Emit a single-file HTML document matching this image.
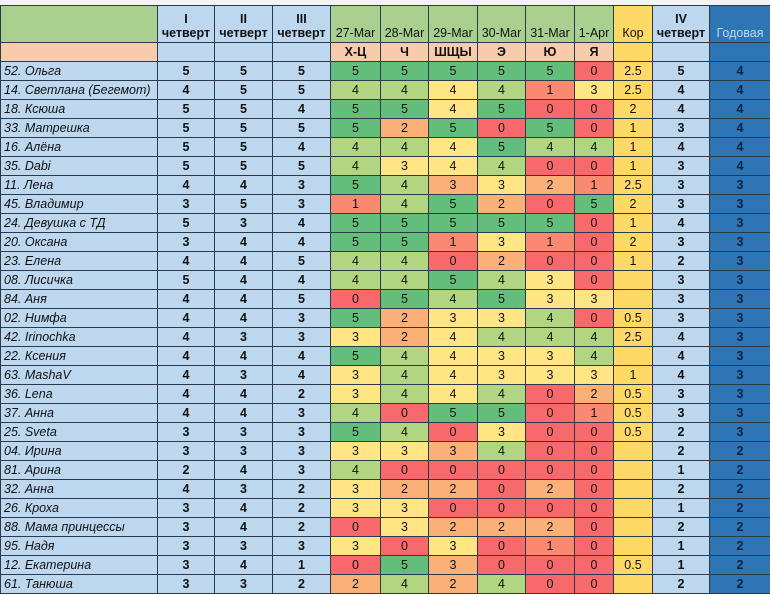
<!DOCTYPE html>
<html><head><meta charset="utf-8">
<style>
body{margin:0;width:770px;height:595px;background:#fff;overflow:hidden;font-family:"Liberation Sans","DejaVu Sans",sans-serif;}
.top{position:absolute;left:0;top:0;width:770px;height:5px;background:#f4f4f4;border-bottom:1px solid #999}
table{position:absolute;left:0;top:5px;border-collapse:collapse;table-layout:fixed;width:770px;font-size:12.5px}
td{border:1px solid #2a3a4a;padding:0;text-align:center;height:18px;line-height:18px;overflow:hidden;white-space:nowrap;color:#111}
tr.h1 td{height:34px;line-height:14px;font-weight:bold;vertical-align:bottom;padding-bottom:2px}
tr.h1 td.d{font-weight:normal}
td.n{text-align:left;font-style:italic;padding-left:3px;background:#bdd7ee}
td.b{background:#bdd7ee;font-weight:bold}
td.y{background:#2e75b6;font-weight:bold;color:#0d2240}
td.k{background:#ffd966}
.c5{background:#63be7b}.c4{background:#b1d580}.c3{background:#ffe584}.c2{background:#fbb078}.c1{background:#f98a70}.c0{background:#f8696b}
.g{background:#a9d08e}.p{background:#f8cbad}
</style></head><body>
<div class="top"></div>
<table>
<colgroup><col style="width:157px"><col style="width:57px"><col style="width:58px"><col style="width:58px"><col style="width:50px"><col style="width:48px"><col style="width:49px"><col style="width:48px"><col style="width:49px"><col style="width:39px"><col style="width:39px"><col style="width:57px"><col style="width:61px"></colgroup>
<tr class="h1"><td class="g"></td><td class="b">I<br>четверт</td><td class="b">II<br>четверт</td><td class="b">III<br>четверт</td><td class="g d">27-Mar</td><td class="g d">28-Mar</td><td class="g d">29-Mar</td><td class="g d">30-Mar</td><td class="g d">31-Mar</td><td class="g d">1-Apr</td><td class="k d">Кор</td><td class="b">IV<br>четверт</td><td class="d" style="background:#2e75b6;color:#bdd7ee">Годовая</td></tr>
<tr style="font-weight:bold"><td class="p"></td><td class="b"></td><td class="b"></td><td class="b"></td><td class="p">Х-Ц</td><td class="p">Ч</td><td class="p">ШЩЫ</td><td class="p">Э</td><td class="p">Ю</td><td class="p">Я</td><td class="k"></td><td class="b"></td><td class="y"></td></tr>
<tr><td class="n">52. Ольга</td><td class="b">5</td><td class="b">5</td><td class="b">5</td><td class="c5">5</td><td class="c5">5</td><td class="c5">5</td><td class="c5">5</td><td class="c5">5</td><td class="c0">0</td><td class="k">2.5</td><td class="b">5</td><td class="y">4</td></tr>
<tr><td class="n">14. Светлана (Бегемот)</td><td class="b">4</td><td class="b">5</td><td class="b">5</td><td class="c4">4</td><td class="c4">4</td><td class="c3">4</td><td class="c4">4</td><td class="c1">1</td><td class="c3">3</td><td class="k">2.5</td><td class="b">4</td><td class="y">4</td></tr>
<tr><td class="n">18. Ксюша</td><td class="b">5</td><td class="b">5</td><td class="b">4</td><td class="c5">5</td><td class="c5">5</td><td class="c3">4</td><td class="c5">5</td><td class="c0">0</td><td class="c0">0</td><td class="k">2</td><td class="b">4</td><td class="y">4</td></tr>
<tr><td class="n">33. Матрешка</td><td class="b">5</td><td class="b">5</td><td class="b">5</td><td class="c5">5</td><td class="c2">2</td><td class="c5">5</td><td class="c0">0</td><td class="c5">5</td><td class="c0">0</td><td class="k">1</td><td class="b">3</td><td class="y">4</td></tr>
<tr><td class="n">16. Алёна</td><td class="b">5</td><td class="b">5</td><td class="b">4</td><td class="c4">4</td><td class="c4">4</td><td class="c3">4</td><td class="c5">5</td><td class="c4">4</td><td class="c4">4</td><td class="k">1</td><td class="b">4</td><td class="y">4</td></tr>
<tr><td class="n">35. Dabi</td><td class="b">5</td><td class="b">5</td><td class="b">5</td><td class="c4">4</td><td class="c3">3</td><td class="c3">4</td><td class="c4">4</td><td class="c0">0</td><td class="c0">0</td><td class="k">1</td><td class="b">3</td><td class="y">4</td></tr>
<tr><td class="n">11. Лена</td><td class="b">4</td><td class="b">4</td><td class="b">3</td><td class="c5">5</td><td class="c4">4</td><td class="c2">3</td><td class="c3">3</td><td class="c2">2</td><td class="c1">1</td><td class="k">2.5</td><td class="b">3</td><td class="y">3</td></tr>
<tr><td class="n">45. Владимир</td><td class="b">3</td><td class="b">5</td><td class="b">3</td><td class="c1">1</td><td class="c4">4</td><td class="c5">5</td><td class="c2">2</td><td class="c0">0</td><td class="c5">5</td><td class="k">2</td><td class="b">3</td><td class="y">3</td></tr>
<tr><td class="n">24. Девушка с ТД</td><td class="b">5</td><td class="b">3</td><td class="b">4</td><td class="c5">5</td><td class="c5">5</td><td class="c5">5</td><td class="c5">5</td><td class="c5">5</td><td class="c0">0</td><td class="k">1</td><td class="b">4</td><td class="y">3</td></tr>
<tr><td class="n">20. Оксана</td><td class="b">3</td><td class="b">4</td><td class="b">4</td><td class="c5">5</td><td class="c5">5</td><td class="c1">1</td><td class="c3">3</td><td class="c1">1</td><td class="c0">0</td><td class="k">2</td><td class="b">3</td><td class="y">3</td></tr>
<tr><td class="n">23. Елена</td><td class="b">4</td><td class="b">4</td><td class="b">5</td><td class="c4">4</td><td class="c4">4</td><td class="c0">0</td><td class="c2">2</td><td class="c0">0</td><td class="c0">0</td><td class="k">1</td><td class="b">2</td><td class="y">3</td></tr>
<tr><td class="n">08. Лисичка</td><td class="b">5</td><td class="b">4</td><td class="b">4</td><td class="c4">4</td><td class="c4">4</td><td class="c5">5</td><td class="c4">4</td><td class="c3">3</td><td class="c0">0</td><td class="k"></td><td class="b">3</td><td class="y">3</td></tr>
<tr><td class="n">84. Аня</td><td class="b">4</td><td class="b">4</td><td class="b">5</td><td class="c0">0</td><td class="c5">5</td><td class="c4">4</td><td class="c5">5</td><td class="c3">3</td><td class="c3">3</td><td class="k"></td><td class="b">3</td><td class="y">3</td></tr>
<tr><td class="n">02. Нимфа</td><td class="b">4</td><td class="b">4</td><td class="b">3</td><td class="c5">5</td><td class="c2">2</td><td class="c3">3</td><td class="c3">3</td><td class="c4">4</td><td class="c0">0</td><td class="k">0.5</td><td class="b">3</td><td class="y">3</td></tr>
<tr><td class="n">42. Irinochka</td><td class="b">4</td><td class="b">3</td><td class="b">3</td><td class="c3">3</td><td class="c2">2</td><td class="c3">4</td><td class="c4">4</td><td class="c4">4</td><td class="c4">4</td><td class="k">2.5</td><td class="b">4</td><td class="y">3</td></tr>
<tr><td class="n">22. Ксения</td><td class="b">4</td><td class="b">4</td><td class="b">4</td><td class="c5">5</td><td class="c4">4</td><td class="c3">4</td><td class="c3">3</td><td class="c3">3</td><td class="c4">4</td><td class="k"></td><td class="b">4</td><td class="y">3</td></tr>
<tr><td class="n">63. MashaV</td><td class="b">4</td><td class="b">3</td><td class="b">4</td><td class="c3">3</td><td class="c4">4</td><td class="c3">4</td><td class="c3">3</td><td class="c3">3</td><td class="c3">3</td><td class="k">1</td><td class="b">4</td><td class="y">3</td></tr>
<tr><td class="n">36. Lena</td><td class="b">4</td><td class="b">4</td><td class="b">2</td><td class="c3">3</td><td class="c4">4</td><td class="c3">4</td><td class="c4">4</td><td class="c0">0</td><td class="c2">2</td><td class="k">0.5</td><td class="b">3</td><td class="y">3</td></tr>
<tr><td class="n">37. Анна</td><td class="b">4</td><td class="b">4</td><td class="b">3</td><td class="c4">4</td><td class="c0">0</td><td class="c5">5</td><td class="c5">5</td><td class="c0">0</td><td class="c1">1</td><td class="k">0.5</td><td class="b">3</td><td class="y">3</td></tr>
<tr><td class="n">25. Sveta</td><td class="b">3</td><td class="b">3</td><td class="b">3</td><td class="c5">5</td><td class="c4">4</td><td class="c0">0</td><td class="c3">3</td><td class="c0">0</td><td class="c0">0</td><td class="k">0.5</td><td class="b">2</td><td class="y">3</td></tr>
<tr><td class="n">04. Ирина</td><td class="b">3</td><td class="b">3</td><td class="b">3</td><td class="c3">3</td><td class="c3">3</td><td class="c2">3</td><td class="c4">4</td><td class="c0">0</td><td class="c0">0</td><td class="k"></td><td class="b">2</td><td class="y">2</td></tr>
<tr><td class="n">81. Арина</td><td class="b">2</td><td class="b">4</td><td class="b">3</td><td class="c4">4</td><td class="c0">0</td><td class="c0">0</td><td class="c0">0</td><td class="c0">0</td><td class="c0">0</td><td class="k"></td><td class="b">1</td><td class="y">2</td></tr>
<tr><td class="n">32. Анна</td><td class="b">4</td><td class="b">3</td><td class="b">2</td><td class="c3">3</td><td class="c2">2</td><td class="c2">2</td><td class="c0">0</td><td class="c2">2</td><td class="c0">0</td><td class="k"></td><td class="b">2</td><td class="y">2</td></tr>
<tr><td class="n">26. Кроха</td><td class="b">3</td><td class="b">4</td><td class="b">2</td><td class="c3">3</td><td class="c3">3</td><td class="c0">0</td><td class="c0">0</td><td class="c0">0</td><td class="c0">0</td><td class="k"></td><td class="b">1</td><td class="y">2</td></tr>
<tr><td class="n">88. Мама принцессы</td><td class="b">3</td><td class="b">4</td><td class="b">2</td><td class="c0">0</td><td class="c3">3</td><td class="c2">2</td><td class="c2">2</td><td class="c2">2</td><td class="c0">0</td><td class="k"></td><td class="b">2</td><td class="y">2</td></tr>
<tr><td class="n">95. Надя</td><td class="b">3</td><td class="b">3</td><td class="b">3</td><td class="c3">3</td><td class="c0">0</td><td class="c3">3</td><td class="c0">0</td><td class="c1">1</td><td class="c0">0</td><td class="k"></td><td class="b">1</td><td class="y">2</td></tr>
<tr><td class="n">12. Екатерина</td><td class="b">3</td><td class="b">4</td><td class="b">1</td><td class="c0">0</td><td class="c5">5</td><td class="c2">3</td><td class="c0">0</td><td class="c0">0</td><td class="c0">0</td><td class="k">0.5</td><td class="b">1</td><td class="y">2</td></tr>
<tr><td class="n">61. Танюша</td><td class="b">3</td><td class="b">3</td><td class="b">2</td><td class="c2">2</td><td class="c4">4</td><td class="c2">2</td><td class="c4">4</td><td class="c0">0</td><td class="c0">0</td><td class="k"></td><td class="b">2</td><td class="y">2</td></tr>
</table>
</body></html>
